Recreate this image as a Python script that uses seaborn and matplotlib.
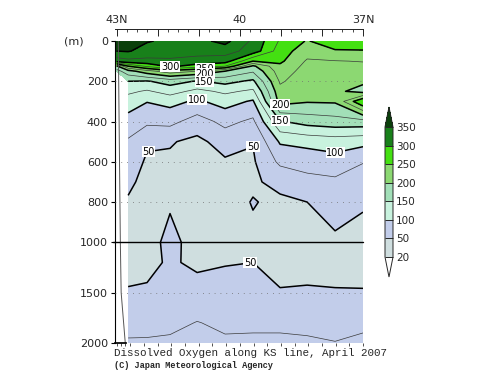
import numpy as np
import matplotlib
matplotlib.use("Agg")
import matplotlib.pyplot as plt
from matplotlib.ticker import MultipleLocator, FixedLocator
import seaborn as sns

nan = np.nan

# KS line stations (deg N) and standard depths (m)
lats = [43.00, 42.72, 42.26, 41.70, 41.04, 40.36, 39.68, 39.02, 38.36, 37.68, 37.00]
depths = [0, 50, 100, 125, 150, 200, 250, 300, 400, 500, 600, 700, 800, 1000, 1200, 1500, 1800, 2000]

# dissolved oxygen (umol/kg) at each station, surface -> bottom
do_st00 = [360, 350, 312, 195, 165, nan, nan, nan, nan, nan, nan, nan, nan, nan, nan, nan, nan, nan]
do_st01 = [358, 352, 318, 250, 190, 150, 130, 113, 90, 72, 62, 54, 48, 44, 46, 51, 66, 78]
do_st02 = [352, 340, 318, 280, 215, 148, 122, 101, 80, 53, 47, 44, 42, 43, 46, 52, 67, 78]
do_st03 = [345, 338, 320, 305, 240, 160, 135, 108, 82, 52, 46, 45, 48, 55, 52, 58, 68, 80]
do_st04 = [342, 335, 315, 290, 225, 148, 118, 96, 64, 44, 42, 41, 41, 43, 47, 56, 76, 84]
do_st05 = [358, 335, 312, 275, 200, 158, 130, 110, 82, 60, 47, 44, 42, 44, 49, 57, 70, 79]
do_st06 = [320, 315, 250, 195, 178, 145, 120, 97, 70, 51, 47, 47, 51, 46, 50, 58, 70, 80]
do_st07 = [272, 262, 255, 245, 238, 228, 218, 210, 148, 103, 80, 56, 46, 43, 45, 51, 70, 80]
do_st08 = [248, 236, 222, 218, 215, 212, 208, 202, 160, 108, 84, 68, 50, 42, 44, 52, 68, 79]
do_st09 = [268, 247, 224, 220, 217, 212, 206, 203, 165, 112, 90, 70, 60, 46, 45, 51, 64, 76]
do_st10 = [268, 248, 226, 220, 215, 205, 190, 275, 165, 108, 76, 64, 52, 44, 44, 51, 70, 80]
profiles = [do_st00, do_st01, do_st02, do_st03, do_st04, do_st05,
            do_st06, do_st07, do_st08, do_st09, do_st10]

levels = [20, 50, 100, 150, 200, 250, 300, 350]
# under, 20-50, 50-100, ..., 300-350, over
fill_colors = ["#ffffff", "#cfdedf", "#c2cdea", "#c8f2de", "#a2dfb8",
               "#8cd872", "#44e012", "#18801a", "#0a400a"]
thick_levels = [50, 100, 150, 200, 250, 300, 350]
thin_levels = [75, 125, 175, 225, 275, 325]

# where the line labels sit (lat, depth)
label_lats = [41.70, 40.85, 40.85, 40.85, 41.04, 42.26, 39.70, 39.02, 39.02, 37.68, 39.75]
label_depths = [127, 145, 163, 192, 290, 500, 505, 325, 410, 545, 1200]

coast_lats = [42.96, 42.91, 42.89, 42.79]
coast_depths = [0, 1000, 1500, 2000]

depth_ticks = [0, 200, 400, 600, 800, 1000, 1500, 2000]
grid_depths = [200, 400, 600, 800, 1500]
lat_ticks = [43, 42, 41, 40, 39, 38, 37]
lat_ticklabels = ["43N", "", "", "40", "", "", "37N"]


def fwd(d):
    d = np.asarray(d, dtype=float)
    return np.where(d <= 1000, d, 1000 + (d - 1000) / 2)


def inv(y):
    y = np.asarray(y, dtype=float)
    return np.where(y <= 1000, y, 1000 + (y - 1000) * 2)


sns.set_theme(style="white")
plt.rcParams["font.family"] = ["DejaVu Sans"]

fig = plt.figure(figsize=(5, 3.87), dpi=100)
ax = fig.add_axes([115 / 500, 1 - 343 / 387, 248 / 500, 302 / 387])

Z = np.array(profiles, dtype=float).T
cf = ax.contourf(lats, depths, Z, levels=levels, colors=fill_colors, extend="both")
ax.contour(lats, depths, Z, levels=thin_levels, colors="#3a3a3a", linewidths=0.5)
cs = ax.contour(lats, depths, Z, levels=thick_levels, colors="black", linewidths=1.1)

ax.set_yscale("function", functions=(fwd, inv))
ax.set_xlim(43.04, 37.0)
ax.set_ylim(2000, 0)

labels = ax.clabel(cs, manual=list(zip(label_lats, label_depths)), fontsize=7,
                   fmt="%d", inline=False)
for t in labels:
    t.set_rotation(0)
    t.set_bbox(dict(boxstyle="square,pad=0.05", fc="white", ec="none"))
    t.set_zorder(6)

for gd in grid_depths:
    ax.axhline(gd, color="#707070", lw=0.6, ls=(0, (1, 6)), zorder=3)
ax.axhline(1000, xmin=-0.01, color="black", lw=1.0, zorder=4, clip_on=False)

sns.lineplot(x=coast_lats, y=coast_depths, ax=ax, sort=False, color="#555555", lw=0.7)

ax.set_yticks(depth_ticks)
ax.set_yticklabels([str(d) for d in depth_ticks])
ax.tick_params(axis="y", direction="out", length=3, width=0.8, labelsize=8, pad=2, left=True, color="black")
ax.set_xticks(list(np.arange(37.0, 43.01, 1 / 3)) + [42.9, 42.8])
ax.tick_params(axis="x", direction="out", length=2.5, width=0.6, top=True, bottom=False,
               labeltop=False, labelbottom=False, color="#333333")
ax.set_xlabel("")
ax.set_ylabel("")
for side in ["top", "right"]:
    ax.spines[side].set_visible(False)
ax.spines["left"].set_color("black")
ax.spines["left"].set_linewidth(0.8)
ax.spines["bottom"].set_bounds(43.04, 42.78)
ax.spines["bottom"].set_color("black")

ax2 = ax.twiny()
ax2.set_xlim(ax.get_xlim())
ax2.spines["top"].set_position(("outward", 8.6))
for side in ["bottom", "left", "right"]:
    ax2.spines[side].set_visible(False)
ax2.spines["top"].set_color("#222222")
ax2.spines["top"].set_linewidth(0.7)
ax2.xaxis.set_major_locator(FixedLocator(lat_ticks))
ax2.set_xticklabels(lat_ticklabels)
ax2.xaxis.set_minor_locator(MultipleLocator(0.25))
ax2.tick_params(axis="x", which="major", direction="in", length=5, width=0.6, labelsize=8, pad=3, color="black")
ax2.tick_params(axis="x", which="minor", direction="in", length=2.5, width=0.5, color="black")

fig.text(74 / 500, 1 - 42 / 387, "(m)", fontsize=8, ha="center", va="center")

cax = fig.add_axes([385 / 500, 1 - 277 / 387, 8 / 500, 170 / 387])
cb = fig.colorbar(cf, cax=cax, extend="both", extendfrac=0.154, drawedges=True, ticks=levels)
cb.outline.set_linewidth(0.7)
cb.dividers.set_linewidth(0.7)
cb.ax.tick_params(length=0, labelsize=7.5, pad=2)

fig.text(114 / 500, 1 - 353 / 387, "Dissolved Oxygen along KS line, April 2007",
         family="Liberation Mono", fontsize=7.8, va="center")
fig.text(114 / 500, 1 - 366 / 387, "(C) Japan Meteorological Agency",
         family="Liberation Mono", fontsize=6.2, weight="bold", va="center")

fig.savefig("out.png", dpi=100, facecolor="white")
